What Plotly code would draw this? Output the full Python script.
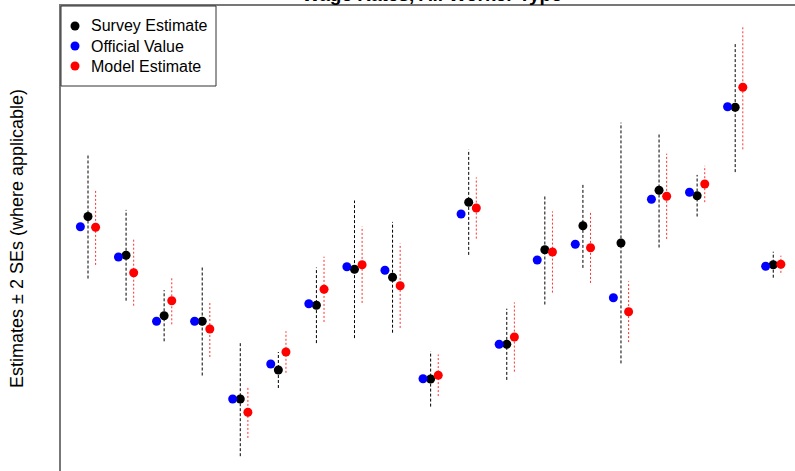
import plotly.graph_objects as go

# Nineteen domains, each with a survey estimate, an official value and a model estimate
domains = list(range(1, 20))

survey_est = [25.45, 21.57, 15.53, 14.97, 7.20, 10.10, 16.57, 20.17, 19.37, 9.20,
              26.87, 12.67, 22.13, 24.53, 22.80, 28.07, 27.53, 36.37, 20.63]
survey_se = [3.10, 2.27, 1.28, 2.71, 2.86, 0.90, 1.89, 3.44, 2.77, 1.38,
             2.63, 1.78, 2.74, 2.11, 6.02, 2.86, 1.04, 3.24, 0.65]

official = [24.43, 21.40, 14.97, 14.97, 7.20, 10.70, 16.73, 20.43, 20.07, 9.23,
            25.70, 12.67, 21.10, 22.67, 17.33, 27.17, 27.87, 36.43, 20.47]

model_est = [24.37, 19.83, 17.03, 14.20, 5.87, 11.90, 18.17, 20.63, 18.53, 9.57,
             26.30, 13.40, 21.90, 22.33, 15.93, 27.47, 28.70, 38.37, 20.67]
model_se = [1.88, 1.65, 1.18, 1.40, 1.28, 1.04, 1.63, 1.91, 2.11, 1.04,
            1.53, 1.73, 2.03, 1.76, 1.52, 2.13, 0.91, 3.10, 0.43]

legend_labels = ["Survey Estimate", "Official Value", "Model Estimate"]
legend_colors = ["black", "blue", "red"]

OFFSET = 0.2
FONT = "Liberation Sans, Arial, Helvetica, sans-serif"

# plot-area geometry in pixels
W, H = 795, 471
ML, MT = 61, 6
PW, PH = W - ML, H - MT


def px_x(p):
    return (p - ML) / PW


def px_y(p):
    return 1 - (p - MT) / PH


def interval_segments(xs, est, se, k=2.0):
    """Vertical segments est +/- k*se, separated by None for a single trace."""
    sx, sy = [], []
    for x, e, s in zip(xs, est, se):
        sx += [x, x, None]
        sy += [e - k * s, e + k * s, None]
    return sx, sy


x_survey = domains
x_official = [d - OFFSET for d in domains]
x_model = [d + OFFSET for d in domains]

fig = go.Figure()

bx, by = interval_segments(x_survey, survey_est, survey_se)
fig.add_trace(go.Scatter(x=bx, y=by, mode="lines", showlegend=False, hoverinfo="skip",
                         line=dict(color="black", width=1, dash="3px,2px")))
rx, ry = interval_segments(x_model, model_est, model_se)
fig.add_trace(go.Scatter(x=rx, y=ry, mode="lines", showlegend=False, hoverinfo="skip",
                         line=dict(color="#ff3030", width=1, dash="2px,2px")))

fig.add_trace(go.Scatter(x=x_survey, y=survey_est, mode="markers", name=legend_labels[0],
                         showlegend=False, marker=dict(color="black", size=9)))
fig.add_trace(go.Scatter(x=x_official, y=official, mode="markers", name=legend_labels[1],
                         showlegend=False, marker=dict(color="blue", size=9)))
fig.add_trace(go.Scatter(x=x_model, y=model_est, mode="markers", name=legend_labels[2],
                         showlegend=False, marker=dict(color="red", size=9)))

# legend drawn as a boxed key in the top-left corner
shapes = [dict(type="rect", xref="paper", yref="paper",
               x0=0, x1=px_x(216), y0=px_y(86), y1=1,
               line=dict(color="#333333", width=1), fillcolor="rgba(0,0,0,0)")]
annotations = []
for i, (lab, col) in enumerate(zip(legend_labels, legend_colors)):
    yc = px_y(26 + 20 * i)
    shapes.append(dict(type="circle", xref="paper", yref="paper",
                       xsizemode="pixel", ysizemode="pixel",
                       xanchor=px_x(75), yanchor=yc,
                       x0=-4.5, x1=4.5, y0=-4.5, y1=4.5,
                       fillcolor=col, line=dict(color=col, width=0)))
    annotations.append(dict(text=lab, xref="paper", yref="paper",
                            x=px_x(89), y=yc, xanchor="left", yanchor="middle",
                            showarrow=False, font=dict(size=16, family=FONT)))

annotations += [
    dict(text="<b>Wage Rates, All Worker Type</b>", xref="paper", yref="paper",
         x=px_x(432), y=1, xanchor="center", yanchor="bottom", yshift=-1,
         showarrow=False, font=dict(size=19, family=FONT)),
    dict(text="Estimates ± 2 SEs (where applicable)", xref="paper", yref="paper",
         x=px_x(17), y=px_y(239), xanchor="center", yanchor="middle",
         textangle=-90, showarrow=False, font=dict(size=18, family=FONT)),
]

fig.update_layout(
    width=W, height=H,
    margin=dict(l=ML, r=0, t=MT, b=0),
    paper_bgcolor="white", plot_bgcolor="white",
    font=dict(family=FONT, color="black"),
    showlegend=False,
    xaxis=dict(range=[0.2908, 19.571], showgrid=False, zeroline=False,
               showticklabels=False, ticks="", side="top",
               showline=True, linecolor="#777777", linewidth=1.5),
    yaxis=dict(range=[0, 46.5], showgrid=False, zeroline=False,
               showticklabels=False, ticks="",
               showline=True, linecolor="#777777", linewidth=1.5),
    shapes=shapes,
    annotations=annotations,
)

fig.write_html("out.html")
